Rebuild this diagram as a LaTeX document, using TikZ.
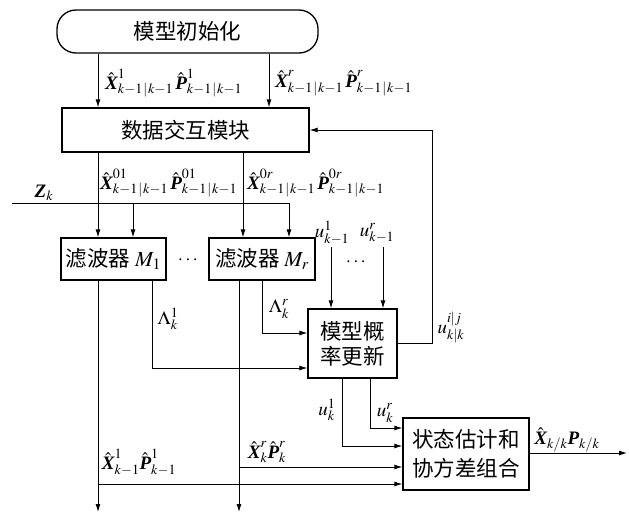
\documentclass[tikz,border=0pt]{standalone}
\usepackage{amsmath}
\usepackage{mathptmx}
\usepackage{fontspec}
\setmainfont{Liberation Serif}
\newfontfamily\cjk{Noto Sans CJK SC}
\usetikzlibrary{arrows.meta,positioning,calc}
\newcommand{\bv}[1]{\text{\normalfont\bfseries\itshape #1}}
\newcommand{\kk}{k-1\kern1pt|\kern1pt k-1}

\begin{document}
\begin{tikzpicture}[x=1pt,y=-1pt,
  every node/.style={font=\fontsize{19}{23}\selectfont},
  blk/.style={draw,line width=1.3pt,inner sep=0pt,align=center,font=\cjk\fontsize{21.5}{25}\selectfont},
  lb/.style={inner sep=0pt},
  ln/.style={line width=0.9pt},
  ar/.style={-{Latex[length=8pt,width=5pt]}}]
\useasboundingbox (0,0) rectangle (629,519);
% Blocks of the interacting multiple model loop.
\node[blk,rounded corners=19pt,minimum width=261pt,minimum height=43pt] (nInit) at (187.5,31.5) {模型初始化};
\node[blk,minimum width=247pt,minimum height=44pt] (nData) at (185.5,130) {数据交互模块};
\node[blk,minimum width=105pt,minimum height=42pt] (nF1) at (113.5,259) {滤波器 $M_1$};
\node[blk,minimum width=106pt,minimum height=42pt] (nFr) at (262,259) {滤波器 $M_r$};
\node[blk,minimum width=89pt,minimum height=69pt] (nProb) at (352.5,343.5) {模型概\\率更新};
\node[blk,minimum width=126pt,minimum height=72pt] (nComb) at (466,454) {状态估计和\\[4pt]协方差组合};
% Free ends of the connectors.
\coordinate (cZ) at (12,203);
\coordinate (cU1) at (331,247); \coordinate (cUr) at (383,247);
\coordinate (cO1) at (98,512); \coordinate (cOr) at (239,512);
\coordinate (cOut) at (627,453);
% Connectors.
\draw[ln,ar] (nInit.south -| 98,0) -- (nData.north -| 98,0);
\draw[ln,ar] (nInit.south -| 269,0) -- (nData.north -| 269,0);
\draw[ln,ar] (nData.south -| 98,0) -- (nF1.north -| 98,0);
\draw[ln,ar] (nData.south -| 243,0) -- (nFr.north -| 243,0);
\draw[ln,ar] (cZ) -| (nFr.north -| 289,0);
\draw[ln,ar] (cZ -| 133,0) -- (nF1.north -| 133,0);
\draw[ln,ar] (nF1.south -| cO1) -- (cO1);
\draw[ln,ar] (nFr.south -| cOr) -- (cOr);
\draw[ln,ar] (cO1 |- 0,484) -- (nComb.west |- 0,484);
\draw[ln,ar] (cOr |- 0,467) -- (nComb.west |- 0,467);
\draw[ln,ar] (nF1.south -| 152,0) |- (nProb.west |- 0,368);
\draw[ln,ar] (nFr.south -| 262,0) |- (nProb.west |- 0,333);
\draw[ln,ar] (cU1) -- (nProb.north -| cU1);
\draw[ln,ar] (cUr) -- (nProb.north -| cUr);
\draw[ln,ar] (nProb.east) -| (432,130) -- (nData.east);
\draw[ln,ar] (nProb.south -| 342,0) |- (nComb.west |- 0,446);
\draw[ln,ar] (nProb.south -| 370,0) |- (nComb.west |- 0,428);
\draw[ln,ar] (nComb.east |- cOut) -- (cOut);
% Labels.
\node[lb,anchor=west] (lInit1) at (105,83) {$\hat{\bv{X}}^{1}_{\kk}\,\hat{\bv{P}}^{1}_{\kk}$};
\node[lb,anchor=west] (lInitr) at (275,83) {$\hat{\bv{X}}^{r}_{\kk}\,\hat{\bv{P}}^{r}_{\kk}$};
\node[lb,anchor=west] (lMix1) at (100,183) {$\hat{\bv{X}}^{01}_{\kk}\,\hat{\bv{P}}^{01}_{\kk}$};
\node[lb,anchor=west] (lMixr) at (247,183) {$\hat{\bv{X}}^{0r}_{\kk}\,\hat{\bv{P}}^{0r}_{\kk}$};
\node[lb] (lZ) at (44,193) {$\bv{Z}_k$};
\node[lb] (lDotsF) at (189,260) {$\cdots$};
\node[lb] (lDotsU) at (357,262) {$\cdots$};
\node[lb] (lLam1) at (168,319) {$\Lambda^1_k$};
\node[lb] (lLamr) at (279,309) {$\Lambda^r_k$};
\node[lb] (lU1) at (332,233) {$u^1_{k-1}$};
\node[lb] (lUr) at (377,233) {$u^r_{k-1}$};
\node[lb] (lUij) at (451,328) {$u^{i|j}_{k|k}$};
\node[lb] (lUk1) at (327,410) {$u^1_k$};
\node[lb] (lUkr) at (385,413) {$u^r_k$};
\node[lb] (lEstr) at (267,452) {$\hat{\bv{X}}^r_k\hat{\bv{P}}^r_k$};
\node[lb] (lEst1) at (139,462) {$\hat{\bv{X}}^1_{k-1}\hat{\bv{P}}^1_{k-1}$};
\node[lb] (lOut) at (567,440) {$\hat{\bv{X}}_{k/k}\bv{P}_{k/k}$};
\end{tikzpicture}
\end{document}
